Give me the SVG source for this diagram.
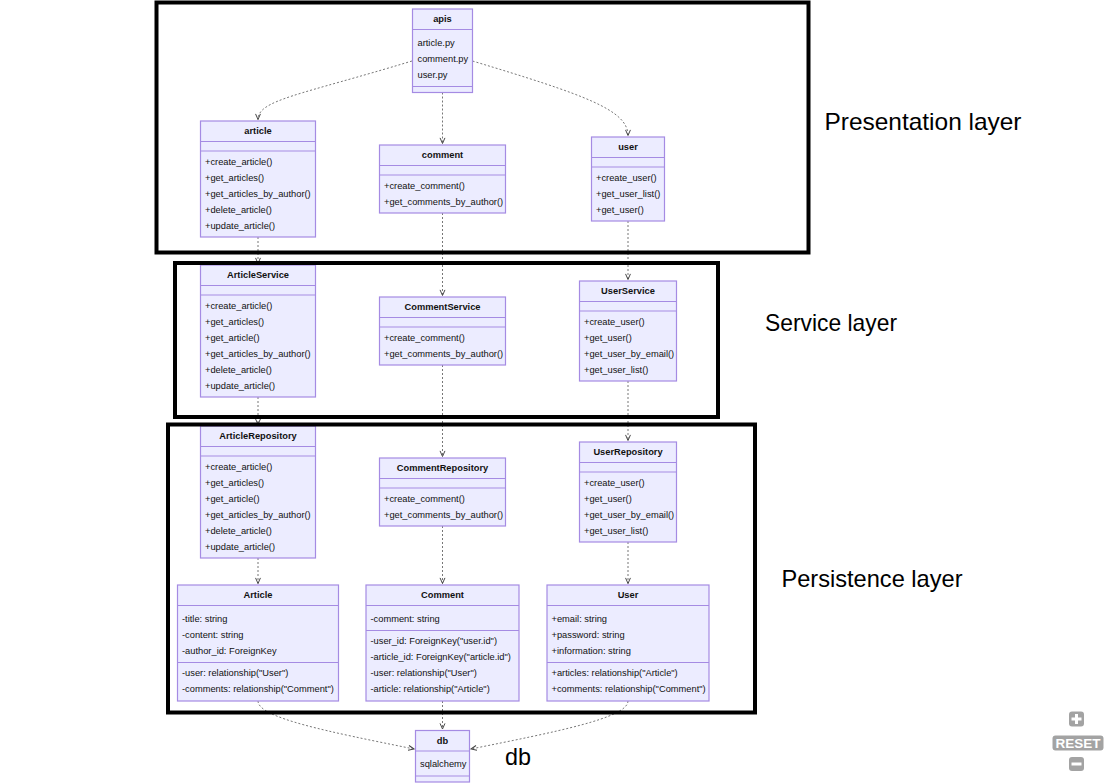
<svg xmlns="http://www.w3.org/2000/svg" width="1116" height="783" viewBox="0 0 1116 783">
<style>
.box{fill:#ECECFF;stroke:#A58BE3;stroke-width:1.2}
.dv{stroke:#A58BE3;stroke-width:1.2}
.t{font-family:"Liberation Sans",Arial,sans-serif;font-size:9.3px;fill:#111}
.tt{font-family:"Liberation Sans",Arial,sans-serif;font-size:9.3px;fill:#111;font-weight:bold;text-anchor:middle}
.edge{fill:none;stroke:#777;stroke-width:1;stroke-dasharray:2 2}
.layer{fill:none;stroke:#000;stroke-width:4}
.lbl{font-family:"Liberation Sans",Arial,sans-serif;font-size:24px;fill:#000}
.btn{fill:#a3a3a3}
.bl{stroke:#fff;stroke-width:3}
</style>
<defs>
<marker id="arr" viewBox="0 0 10 10" refX="9" refY="5" markerWidth="7" markerHeight="7" markerUnits="userSpaceOnUse" orient="auto">
<path d="M1,1.5 L9,5 L1,8.5" fill="none" stroke="#444" stroke-width="1.4" stroke-dasharray="none"/>
</marker>
</defs>
<rect width="1116" height="783" fill="#fff"/>

<g id="connectors">
<path class="edge" marker-end="url(#arr)" d="M412,61 C300,95 258,100 258,119.5"/>
<path class="edge" marker-end="url(#arr)" d="M442.5,92.5 L442.5,143.5"/>
<path class="edge" marker-end="url(#arr)" d="M472.5,61 C585,95 628,110 628,135.5"/>
<path class="edge" marker-end="url(#arr)" d="M258,237 L258,263.5"/>
<path class="edge" marker-end="url(#arr)" d="M442.5,213 L442.5,295.5"/>
<path class="edge" marker-end="url(#arr)" d="M628,221 L628,279.5"/>
<path class="edge" marker-end="url(#arr)" d="M258,397 L258,424.5"/>
<path class="edge" marker-end="url(#arr)" d="M442.5,365 L442.5,456.5"/>
<path class="edge" marker-end="url(#arr)" d="M628,381 L628,440.5"/>
<path class="edge" marker-end="url(#arr)" d="M258,558 L258,583.5"/>
<path class="edge" marker-end="url(#arr)" d="M442.5,526 L442.5,583.5"/>
<path class="edge" marker-end="url(#arr)" d="M628,542 L628,583.5"/>
<path class="edge" marker-end="url(#arr)" d="M258,701 C258,718 330,732 414,749"/>
<path class="edge" marker-end="url(#arr)" d="M442.5,701 L442.5,729"/>
<path class="edge" marker-end="url(#arr)" d="M628,701 C628,718 555,732 471,749"/>
</g>

<g id="apis">
<rect class="box" x="412.5" y="9" width="60" height="83.5"/>
<line class="dv" x1="412.5" y1="29.5" x2="472.5" y2="29.5"/>
<line class="dv" x1="412.5" y1="86.5" x2="472.5" y2="86.5"/>
<text class="tt" x="442.5" y="22.3">apis</text>
<text class="t" x="417.5" y="45.8">article.py</text>
<text class="t" x="417.5" y="61.8">comment.py</text>
<text class="t" x="417.5" y="77.8">user.py</text>
</g>

<g id="article">
<rect class="box" x="200.5" y="121" width="115" height="116"/>
<line class="dv" x1="200.5" y1="141.5" x2="315.5" y2="141.5"/>
<line class="dv" x1="200.5" y1="151" x2="315.5" y2="151"/>
<text class="tt" x="258" y="134.3">article</text>
<text class="t" x="205" y="164.8">+create_article()</text>
<text class="t" x="205" y="180.8">+get_articles()</text>
<text class="t" x="205" y="196.8">+get_articles_by_author()</text>
<text class="t" x="205" y="212.8">+delete_article()</text>
<text class="t" x="205" y="228.8">+update_article()</text>
</g>

<g id="comment">
<rect class="box" x="379.5" y="145" width="126" height="68"/>
<line class="dv" x1="379.5" y1="165.5" x2="505.5" y2="165.5"/>
<line class="dv" x1="379.5" y1="175" x2="505.5" y2="175"/>
<text class="tt" x="442.5" y="158.3">comment</text>
<text class="t" x="384" y="188.8">+create_comment()</text>
<text class="t" x="384" y="204.8">+get_comments_by_author()</text>
</g>

<g id="user">
<rect class="box" x="591.5" y="137" width="73" height="84"/>
<line class="dv" x1="591.5" y1="157.5" x2="664.5" y2="157.5"/>
<line class="dv" x1="591.5" y1="167" x2="664.5" y2="167"/>
<text class="tt" x="628" y="150.3">user</text>
<text class="t" x="596" y="180.8">+create_user()</text>
<text class="t" x="596" y="196.8">+get_user_list()</text>
<text class="t" x="596" y="212.8">+get_user()</text>
</g>

<g id="ArticleService">
<rect class="box" x="200.5" y="265" width="115" height="132"/>
<line class="dv" x1="200.5" y1="285.5" x2="315.5" y2="285.5"/>
<line class="dv" x1="200.5" y1="295" x2="315.5" y2="295"/>
<text class="tt" x="258" y="278.3">ArticleService</text>
<text class="t" x="205" y="308.8">+create_article()</text>
<text class="t" x="205" y="324.8">+get_articles()</text>
<text class="t" x="205" y="340.8">+get_article()</text>
<text class="t" x="205" y="356.8">+get_articles_by_author()</text>
<text class="t" x="205" y="372.8">+delete_article()</text>
<text class="t" x="205" y="388.8">+update_article()</text>
</g>

<g id="CommentService">
<rect class="box" x="379.5" y="297" width="126" height="68"/>
<line class="dv" x1="379.5" y1="317.5" x2="505.5" y2="317.5"/>
<line class="dv" x1="379.5" y1="327" x2="505.5" y2="327"/>
<text class="tt" x="442.5" y="310.3">CommentService</text>
<text class="t" x="384" y="340.8">+create_comment()</text>
<text class="t" x="384" y="356.8">+get_comments_by_author()</text>
</g>

<g id="UserService">
<rect class="box" x="579.5" y="281" width="97" height="100"/>
<line class="dv" x1="579.5" y1="301.5" x2="676.5" y2="301.5"/>
<line class="dv" x1="579.5" y1="311" x2="676.5" y2="311"/>
<text class="tt" x="628" y="294.3">UserService</text>
<text class="t" x="584" y="324.8">+create_user()</text>
<text class="t" x="584" y="340.8">+get_user()</text>
<text class="t" x="584" y="356.8">+get_user_by_email()</text>
<text class="t" x="584" y="372.8">+get_user_list()</text>
</g>

<g id="ArticleRepository">
<rect class="box" x="200.5" y="426" width="115" height="132"/>
<line class="dv" x1="200.5" y1="446.5" x2="315.5" y2="446.5"/>
<line class="dv" x1="200.5" y1="456" x2="315.5" y2="456"/>
<text class="tt" x="258" y="439.3">ArticleRepository</text>
<text class="t" x="205" y="469.8">+create_article()</text>
<text class="t" x="205" y="485.8">+get_articles()</text>
<text class="t" x="205" y="501.8">+get_article()</text>
<text class="t" x="205" y="517.8">+get_articles_by_author()</text>
<text class="t" x="205" y="533.8">+delete_article()</text>
<text class="t" x="205" y="549.8">+update_article()</text>
</g>

<g id="CommentRepository">
<rect class="box" x="379.5" y="458" width="126" height="68"/>
<line class="dv" x1="379.5" y1="478.5" x2="505.5" y2="478.5"/>
<line class="dv" x1="379.5" y1="488" x2="505.5" y2="488"/>
<text class="tt" x="442.5" y="471.3">CommentRepository</text>
<text class="t" x="384" y="501.8">+create_comment()</text>
<text class="t" x="384" y="517.8">+get_comments_by_author()</text>
</g>

<g id="UserRepository">
<rect class="box" x="579.5" y="442" width="97" height="100"/>
<line class="dv" x1="579.5" y1="462.5" x2="676.5" y2="462.5"/>
<line class="dv" x1="579.5" y1="472" x2="676.5" y2="472"/>
<text class="tt" x="628" y="455.3">UserRepository</text>
<text class="t" x="584" y="485.8">+create_user()</text>
<text class="t" x="584" y="501.8">+get_user()</text>
<text class="t" x="584" y="517.8">+get_user_by_email()</text>
<text class="t" x="584" y="533.8">+get_user_list()</text>
</g>

<g id="Article">
<rect class="box" x="177.5" y="585" width="161" height="116"/>
<line class="dv" x1="177.5" y1="605.5" x2="338.5" y2="605.5"/>
<line class="dv" x1="177.5" y1="662.5" x2="338.5" y2="662.5"/>
<text class="tt" x="258" y="598.3">Article</text>
<text class="t" x="182" y="621.8">-title: string</text>
<text class="t" x="182" y="637.8">-content: string</text>
<text class="t" x="182" y="653.8">-author_id: ForeignKey</text>
<text class="t" x="182" y="676.3">-user: relationship("User")</text>
<text class="t" x="182" y="692.3">-comments: relationship("Comment")</text>
</g>

<g id="Comment">
<rect class="box" x="366" y="585" width="153" height="116"/>
<line class="dv" x1="366" y1="605.5" x2="519" y2="605.5"/>
<line class="dv" x1="366" y1="630.5" x2="519" y2="630.5"/>
<text class="tt" x="442.5" y="598.3">Comment</text>
<text class="t" x="370.5" y="621.8">-comment: string</text>
<text class="t" x="370.5" y="644.3">-user_id: ForeignKey("user.id")</text>
<text class="t" x="370.5" y="660.3">-article_id: ForeignKey("article.id")</text>
<text class="t" x="370.5" y="676.3">-user: relationship("User")</text>
<text class="t" x="370.5" y="692.3">-article: relationship("Article")</text>
</g>

<g id="User">
<rect class="box" x="547" y="585" width="162" height="116"/>
<line class="dv" x1="547" y1="605.5" x2="709" y2="605.5"/>
<line class="dv" x1="547" y1="662.5" x2="709" y2="662.5"/>
<text class="tt" x="628" y="598.3">User</text>
<text class="t" x="551.5" y="621.8">+email: string</text>
<text class="t" x="551.5" y="637.8">+password: string</text>
<text class="t" x="551.5" y="653.8">+information: string</text>
<text class="t" x="551.5" y="676.3">+articles: relationship("Article")</text>
<text class="t" x="551.5" y="692.3">+comments: relationship("Comment")</text>
</g>

<g id="db">
<rect class="box" x="415.5" y="730.5" width="54" height="51.5"/>
<line class="dv" x1="415.5" y1="751" x2="469.5" y2="751"/>
<line class="dv" x1="415.5" y1="776" x2="469.5" y2="776"/>
<text class="tt" x="442.5" y="743.8">db</text>
<text class="t" x="420" y="766.8">sqlalchemy</text>
</g>

<g id="layers">
<rect class="layer" x="156.5" y="2.5" width="652" height="250"/>
<rect class="layer" x="175" y="263" width="543" height="154"/>
<rect class="layer" x="168" y="424.5" width="587" height="288"/>
</g>

<g id="labels">
<text class="lbl" x="824.5" y="130" textLength="197" lengthAdjust="spacingAndGlyphs">Presentation layer</text>
<text class="lbl" x="765" y="330.5" textLength="132" lengthAdjust="spacingAndGlyphs">Service layer</text>
<text class="lbl" x="781.5" y="586.5" textLength="181" lengthAdjust="spacingAndGlyphs">Persistence layer</text>
<text class="lbl" x="505" y="765" textLength="26" lengthAdjust="spacingAndGlyphs">db</text>
</g>

<g id="zoom-controls">
<rect class="btn" x="1069" y="711.5" width="15" height="15" rx="3"/>
<line class="bl" x1="1071.5" y1="719" x2="1081.5" y2="719"/>
<line class="bl" x1="1076.5" y1="714" x2="1076.5" y2="724"/>
<rect class="btn" x="1052.5" y="735.5" width="51" height="15" rx="3"/>
<text x="1078" y="748" text-anchor="middle" font-family="Liberation Sans,Arial,sans-serif" font-weight="bold" font-size="13.5" fill="#fff">RESET</text>
<rect class="btn" x="1069" y="757" width="15" height="14" rx="3"/>
<line class="bl" x1="1071.5" y1="764" x2="1081.5" y2="764"/>
</g>
</svg>
